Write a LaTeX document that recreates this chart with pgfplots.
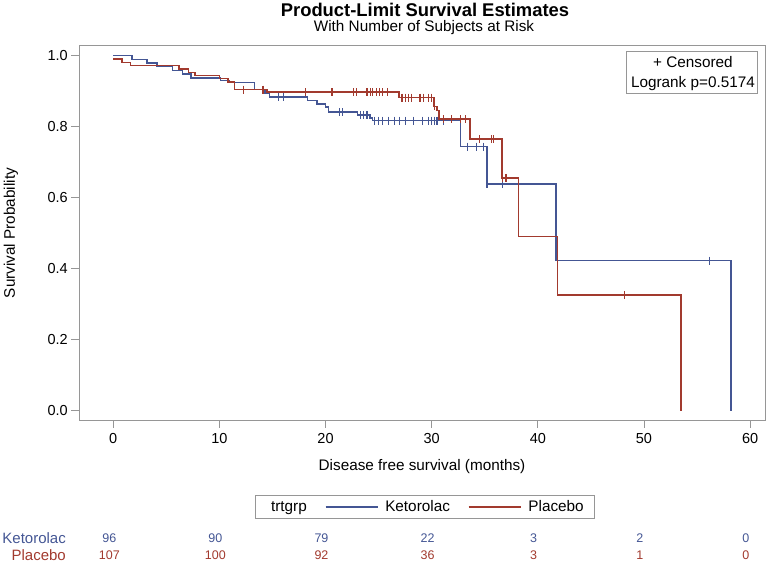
\documentclass[border=0pt]{standalone}
\usepackage{pgfplots}
\pgfplotsset{compat=1.18}
\usepackage{fontspec}
\setmainfont{Liberation Sans}
\definecolor{kblue}{HTML}{445694}
\definecolor{pred}{HTML}{A23A2E}
\definecolor{fgray}{RGB}{150,150,150}
\newcommand{\fs}[1]{\fontsize{#1bp}{#1bp}\selectfont}
\begin{document}
\begin{tikzpicture}[x=1bp,y=1bp]
\path[use as bounding box] (0bp,0bp) rectangle (768bp,563bp);
\node[font=\fs{18.4}\bfseries] at (425bp,553bp) {Product-Limit Survival Estimates};
\node[font=\fs{15.3}] at (424bp,535bp) {With Number of Subjects at Risk};
\begin{axis}[
  at={(79.3bp,143bp)}, anchor=south west, scale only axis,
  width=685.7bp, height=374.3bp,
  xmin=-3.2, xmax=61.4, ymin=-0.026, ymax=1.028,
  axis line style={fgray, line width=0.8bp},
  xtick={0,10,20,30,40,50,60}, ytick={0,0.2,0.4,0.6,0.8,1.0},
  tick pos=left, tick align=outside, major tick length=8bp,
  tick style={fgray, line width=0.8bp},
  ticklabel style={font=\fs{14.5}},
  /pgf/number format/assume math mode=true,
  yticklabel style={/pgf/number format/fixed, /pgf/number format/precision=1, /pgf/number format/fixed zerofill},
  xticklabel style={yshift=-2bp},
  legend style={at={(axis description cs:0.504,-0.232)}, anchor=center,
    legend columns=-1, draw=fgray, font=\fs{15.3}, inner xsep=9bp, inner ysep=3bp,
    /tikz/every odd column/.append style={column sep=5bp},
    /tikz/every even column/.append style={column sep=16bp}},
  legend image code/.code={\draw[#1] (0bp,0bp) -- (52bp,0bp);},
]
\addlegendimage{empty legend}
\addlegendentry{trtgrp}
\addplot[const plot, kblue, line width=1.5bp] coordinates {
(0,1.0) (1.75,0.989) (3.2,0.979) (4.1,0.970) (5.6,0.958) (6.5,0.948) (7.3,0.937)
(10.1,0.930) (10.9,0.924) (13.3,0.904) (14.3,0.894) (14.7,0.884) (18.3,0.874)
(19.2,0.864) (20.0,0.856) (20.3,0.841) (23.0,0.833) (24.2,0.825) (24.4,0.817)
(32.7,0.744) (35.2,0.639) (41.7,0.423) (58.2,0.423) (58.2,0.0)};
\addlegendentry{Ketorolac}
\addplot[const plot, pred, line width=1.5bp] coordinates {
(0,0.991) (0.8,0.981) (1.6,0.972) (6.2,0.962) (7.1,0.953) (7.7,0.944) (10.0,0.935)
(10.8,0.926) (11.4,0.904) (14.5,0.897) (26.9,0.882) (30.2,0.857) (30.5,0.846)
(30.7,0.821) (33.6,0.765) (36.6,0.656) (38.2,0.491) (41.85,0.326) (53.5,0.326) (53.5,0.0)};
\addlegendentry{Placebo}
\addplot[forget plot, only marks, mark=|, mark size=4bp, kblue, mark options={line width=1.2bp}] coordinates {
(15.6,0.884) (16.0,0.884) (21.3,0.841) (21.6,0.841)
(23.3,0.833) (23.6,0.833) (23.9,0.833)
(24.6,0.817) (25.0,0.817) (25.4,0.817) (25.9,0.817) (26.5,0.817) (27.0,0.817) (27.5,0.817)
(28.3,0.817) (29.1,0.817) (29.7,0.817) (30.0,0.817) (30.3,0.817) (30.5,0.817) (31.1,0.817)
(33.4,0.744) (34.25,0.744) (34.9,0.744)
(35.2,0.639) (36.7,0.639) (56.2,0.423)};
\addplot[forget plot, only marks, mark=|, mark size=4bp, pred, mark options={line width=1.2bp}] coordinates {
(12.3,0.904) (14.1,0.904)
(18.1,0.897) (20.6,0.897) (22.6,0.897) (22.9,0.897) (23.9,0.897) (24.2,0.897) (24.4,0.897)
(24.8,0.897) (25.1,0.897) (25.4,0.897) (25.8,0.897)
(27.2,0.882) (27.5,0.882) (27.8,0.882) (28.1,0.882) (28.9,0.882) (29.2,0.882) (29.7,0.882) (30.0,0.882)
(30.3,0.857)
(31.1,0.821) (31.9,0.821) (32.7,0.821) (33.2,0.821)
(34.5,0.765) (35.6,0.765) (35.8,0.765)
(36.7,0.656) (37.0,0.656) (48.2,0.326)};
\end{axis}
\node[rotate=90, font=\fs{15.3}] at (11bp,330bp) {Survival Probability};
\node[font=\fs{15.3}] at (422bp,96bp) {Disease free survival (months)};
\draw[fgray, line width=0.8bp] (626.7bp,511.3bp) rectangle (757.3bp,469.7bp);
\node[font=\fs{15.3}] at (693bp,501.3bp) {+ Censored};
\node[font=\fs{15.3}] at (693bp,479.7bp) {Logrank p=0.5174};
\node[anchor=east, font=\fs{15}, text=kblue, inner sep=0] at (66bp,25bp) {Ketorolac};
\node[anchor=east, font=\fs{15}, text=pred, inner sep=0] at (66bp,8bp) {Placebo};
\foreach \v [count=\i from 0] in {96,90,79,22,3,2,0} {
  \node[font=\fs{12.5}, text=kblue] at ({(113.3+106.1*\i-4)*1bp},25bp) {\v};
}
\foreach \v [count=\i from 0] in {107,100,92,36,3,1,0} {
  \node[font=\fs{12.5}, text=pred] at ({(113.3+106.1*\i-4)*1bp},8bp) {\v};
}
\end{tikzpicture}
\end{document}
